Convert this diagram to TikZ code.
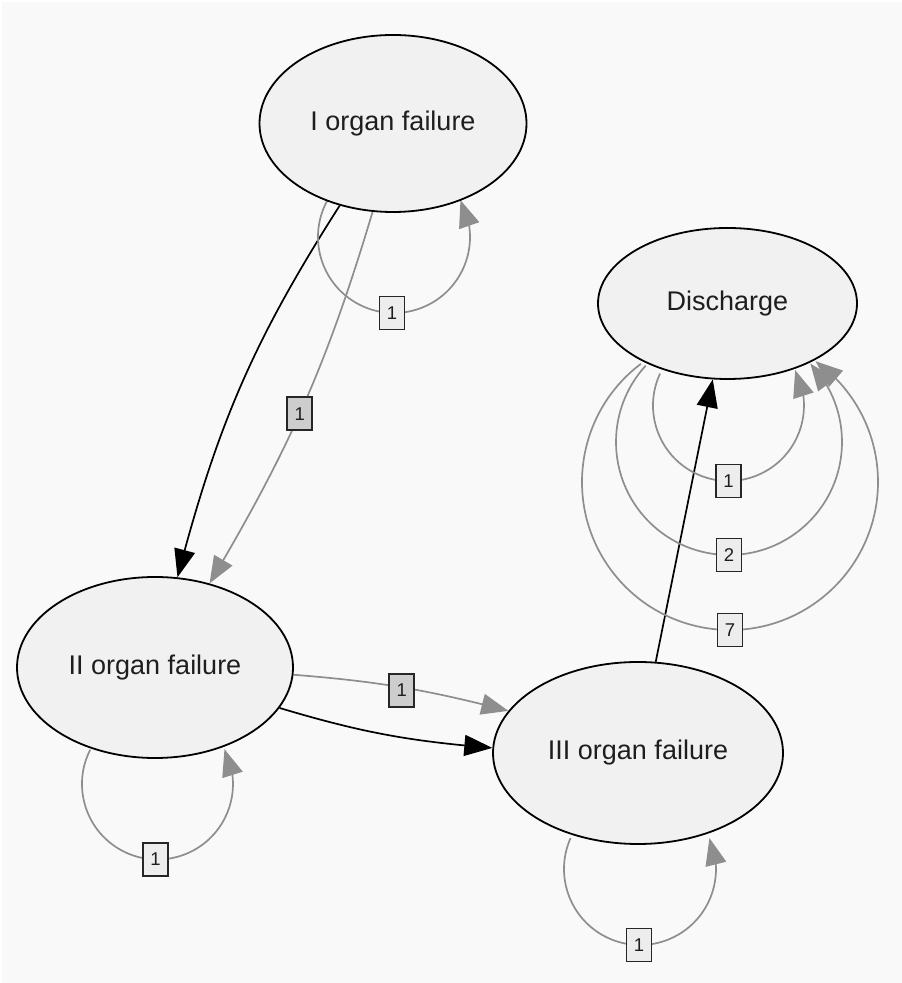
\documentclass[tikz,border=0pt]{standalone}
\usepackage{fontspec}
\setmainfont{Liberation Sans}
\usetikzlibrary{shapes.geometric,arrows.meta,bending,calc}
\definecolor{bgc}{HTML}{F9F9F9}
\definecolor{nodec}{HTML}{F1F1F1}
\definecolor{lblc}{HTML}{EDEDED}
\definecolor{lbldc}{HTML}{CDCDCD}
\definecolor{edgeg}{HTML}{8E8E8E}
\definecolor{txtc}{HTML}{1E1E1E}
\pgfdeclarelayer{bglayer}
\pgfdeclarelayer{edgelayer}
\pgfsetlayers{bglayer,edgelayer,main}
\begin{document}
\begin{tikzpicture}[x=1pt,y=1pt,
  state/.style={ellipse, draw=black, line width=1.8pt, fill=nodec, inner sep=0pt,
    font=\fontsize{27}{32}\selectfont, text=txtc},
  lbl/.style={rectangle, draw=black!85, line width=1.7pt, fill=lblc, minimum width=25pt,
    minimum height=33pt, inner sep=0pt, font=\fontsize{18.5}{22}\selectfont, text=txtc},
  lbldark/.style={lbl, fill=lbldc},
  gedge/.style={draw=edgeg, line width=1.7pt, -{Triangle[length=27pt,width=21pt]}},
  kedge/.style={draw=black, line width=1.7pt, -{Triangle[length=28pt,width=21pt]}},
]
\useasboundingbox (0,0) rectangle (902,983);
\begin{pgfonlayer}{bglayer}
  \fill[white] (0,0) rectangle (902,983);
  \fill[bgc] (2,0) rectangle (902,981);
\end{pgfonlayer}

% states
\node[state, minimum width=267pt, minimum height=177pt] (I) at (393,859.5) {I organ failure};
\node[state, minimum width=259pt, minimum height=151pt] (D) at (727.5,679.5) {Discharge};
\node[state, minimum width=276pt, minimum height=181pt] (II) at (155,315.5) {II organ failure};
\node[state, minimum width=290pt, minimum height=182pt] (III) at (638,230) {III organ failure};

% loop centres
\coordinate (Ic) at ($(I.center)+(1,-113.5)$);
\coordinate (IIc) at ($(II.center)+(2.5,-116.5)$);
\coordinate (IIIc) at ($(III.center)+(2,-116)$);
\coordinate (Dc1) at ($(D.center)+(1,-102)$);
\coordinate (Dc2) at ($(D.center)+(1.5,-138.5)$);
\coordinate (Dc3) at ($(D.center)+(2.5,-178.5)$);

\begin{pgfonlayer}{edgelayer}
  % I -> II
  \draw[kedge] (I.237) to[bend right=9] (II.76);
  \draw[gedge] (I.257) to[bend left=7] coordinate[pos=0.53] (m12) (II.57);
  % II -> III
  \draw[gedge] (II.357) to[bend left=5] coordinate[pos=0.5] (m23) (III.162);
  \draw[kedge] (II.342) to[bend right=6] (III.178);
  % III -> Discharge
  \draw[kedge] (III.79) -- (D.259);
  % self loops
  \draw[gedge] ($(Ic)+(151:76)$) arc[start angle=151, end angle=389, radius=76];
  \draw[gedge] ($(IIc)+(153:75.5)$) arc[start angle=153, end angle=387.5, radius=75.5];
  \draw[gedge] ($(IIIc)+(156:76)$) arc[start angle=156, end angle=384, radius=76];
  \draw[gedge] ($(Dc1)+(155:75.5)$) arc[start angle=155, end angle=388, radius=75.5];
  \draw[gedge] ($(Dc2)+(137.5:113)$) arc[start angle=137.5, end angle=404, radius=113];
  \draw[gedge] ($(Dc3)+(127:148)$) arc[start angle=127, end angle=414.7, radius=148];
\end{pgfonlayer}

% edge labels
\node[lbldark] (l12) at (m12) {1};
\node[lbldark] (l23) at ($(m23)+(0,-3)$) {1};
\node[lbl] (lI) at ($(Ic)+(-2,-76)$) {1};
\node[lbl] (lII) at ($(IIc)+(-2,-75.5)$) {1};
\node[lbl] (lIII) at ($(IIIc)+(-1,-76)$) {1};
\node[lbl] (lD1) at ($(Dc1)+(0,-75.5)$) {1};
\node[lbl] (lD2) at ($(Dc2)+(0,-113)$) {2};
\node[lbl] (lD3) at ($(Dc3)+(0,-148)$) {7};
\end{tikzpicture}
\end{document}
